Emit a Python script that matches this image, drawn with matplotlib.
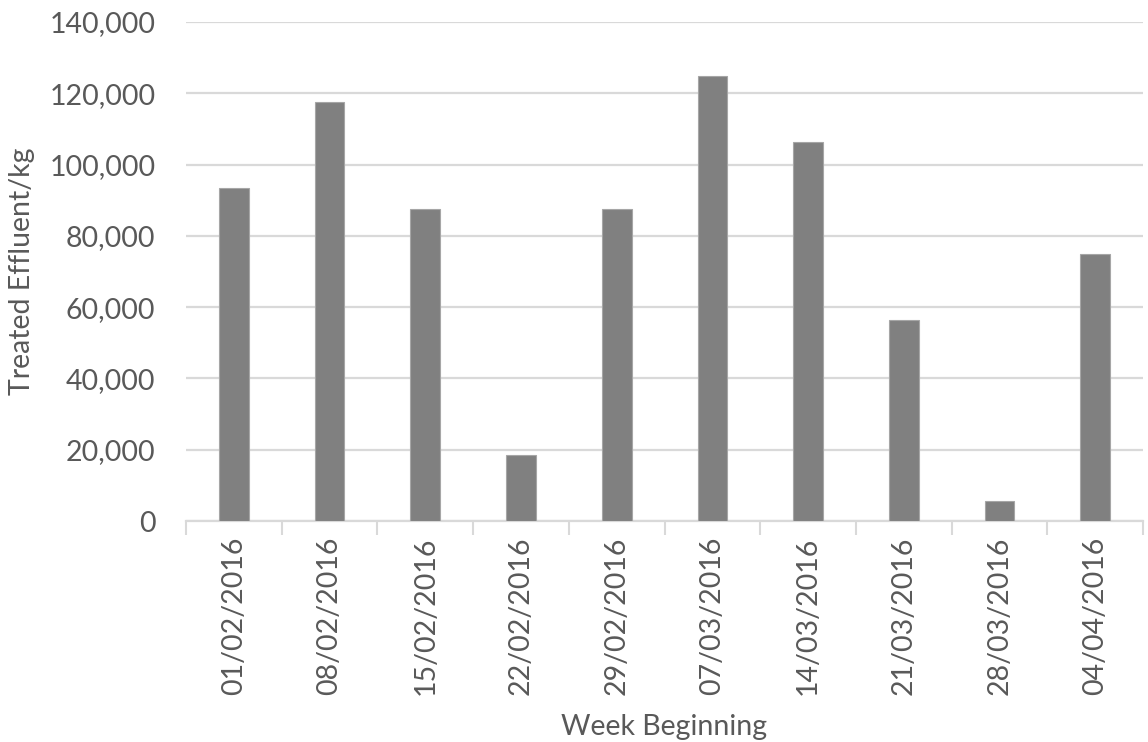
import matplotlib
matplotlib.use("Agg")
import matplotlib.pyplot as plt
from matplotlib.ticker import FuncFormatter, FixedLocator, NullFormatter
import numpy as np

weeks = ["01/02/2016", "08/02/2016", "15/02/2016", "22/02/2016", "29/02/2016",
         "07/03/2016", "14/03/2016", "21/03/2016", "28/03/2016", "04/04/2016"]
effluent_kg = [93300, 117450, 87430, 18550, 87430, 124900, 106200, 56400, 5500, 74900]
y_ticks = [0, 20000, 40000, 60000, 80000, 100000, 120000, 140000]

text_color = "#595959"
grid_color = "#d9d9d9"
bar_color = "#808080"

plt.rcParams["font.family"] = ["Lato", "DejaVu Sans"]

fig = plt.figure(figsize=(11.48, 7.42), dpi=100)
ax = fig.add_axes([0.162, 0.2978, 0.8337, 0.6726])

x = np.arange(len(weeks))
ax.bar(x, effluent_kg, width=0.31, color=bar_color, edgecolor="#a6a6a6",
       linewidth=0.8, zorder=3)

ax.set_xlim(-0.5, len(weeks) - 0.5)
ax.set_ylim(0, 140000)
ax.set_yticks(y_ticks)
ax.yaxis.set_major_formatter(FuncFormatter(lambda v, p: f"{int(v):,}"))
ax.grid(axis="y", color=grid_color, linewidth=1.6, zorder=0)

ax.set_xticks(x)
ax.set_xticklabels(weeks, rotation=90)
ax.xaxis.set_minor_locator(FixedLocator(np.arange(-0.5, len(weeks), 1.0)))
ax.xaxis.set_minor_formatter(NullFormatter())
ax.tick_params(axis="x", which="major", length=0, pad=11, labelsize=20.5, colors=text_color)
ax.tick_params(axis="x", which="minor", length=10, width=1.5, color=grid_color)
ax.tick_params(axis="y", length=0, pad=22, labelsize=20.5, colors=text_color)

for side in ["top", "right", "left"]:
    ax.spines[side].set_visible(False)
ax.spines["bottom"].set_color(grid_color)
ax.spines["bottom"].set_linewidth(1.6)

ax.set_xlabel("Week Beginning", fontsize=20.5, color=text_color, labelpad=14)
ax.set_ylabel("Treated Effluent/kg", fontsize=20.5, color=text_color, labelpad=10)

fig.savefig("out.png", dpi=100)
